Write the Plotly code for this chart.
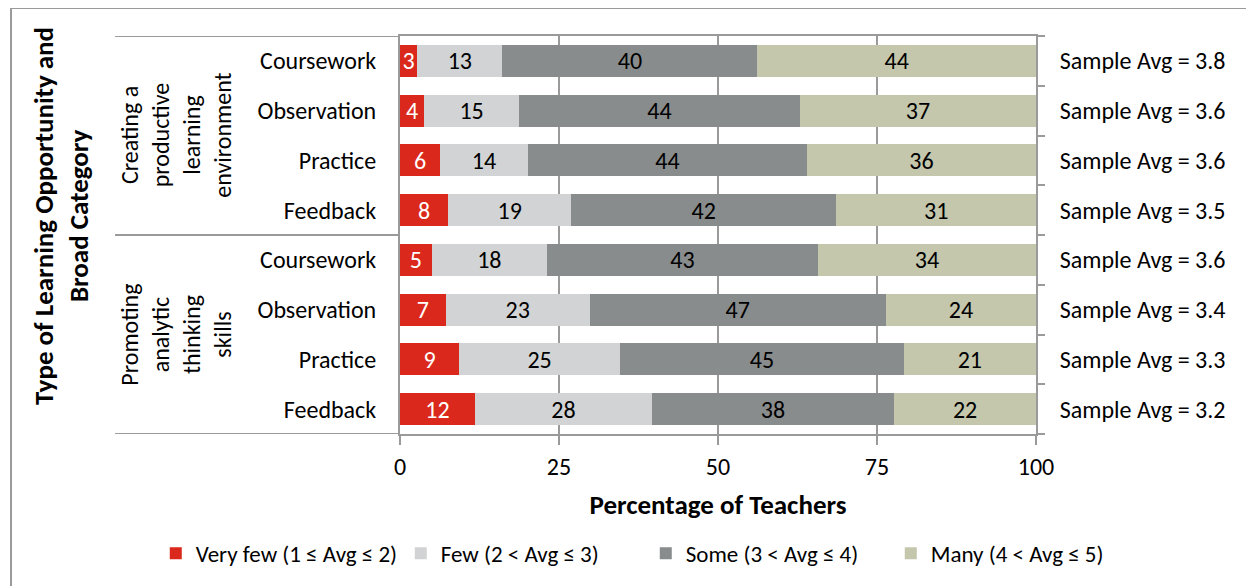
import plotly.graph_objects as go

# ---------------- data ----------------
opportunities = ["Coursework", "Observation", "Practice", "Feedback",
                 "Coursework", "Observation", "Practice", "Feedback"]
groups = ["Creating a<br>productive<br>learning<br>environment",
          "Promoting<br>analytic<br>thinking<br>skills"]
group_sizes = [4, 4]
sample_avg = [3.8, 3.6, 3.6, 3.5, 3.6, 3.4, 3.3, 3.2]

very_few = [2.7, 3.8, 6.3, 7.6, 5.0, 7.2, 9.3, 11.8]
few = [13.4, 14.9, 13.8, 19.3, 18.1, 22.6, 25.3, 27.8]
some = [40.1, 44.2, 43.9, 41.7, 42.6, 46.6, 44.6, 38.1]
many = [43.8, 37.1, 36.0, 31.4, 34.3, 23.6, 20.8, 22.3]

series_names = ["Very few (1 ≤ Avg ≤ 2)", "Few (2 < Avg ≤ 3)",
                "Some (3 < Avg ≤ 4)", "Many (4 < Avg ≤ 5)"]
series_vals = [very_few, few, some, many]
series_colors = ["#DA291C", "#D1D3D4", "#898C8C", "#C4C7AC"]
text_colors = ["white", "black", "black", "black"]

x_ticks = [0, 25, 50, 75, 100]

FONT = "Carlito, Calibri, Lato, sans-serif"
AXIS_GRAY = "#9A9A9A"
FS = 24

idx = list(range(len(opportunities)))

fig = go.Figure()
for name, vals, col, tcol in zip(series_names, series_vals, series_colors, text_colors):
    fig.add_trace(go.Bar(
        x=vals, y=idx, orientation="h", name=name,
        marker=dict(color=col, line=dict(width=0)),
        width=0.64,
        text=vals, texttemplate="%{x:.0f}", textposition="inside",
        insidetextanchor="middle", textangle=0, constraintext="none",
        textfont=dict(color=tcol, size=FS, family=FONT),
        hoverinfo="skip",
    ))

# invisible trace to anchor the right-hand axis
fig.add_trace(go.Scatter(x=[0] * len(idx), y=idx, yaxis="y2", mode="markers",
                         marker=dict(opacity=0), showlegend=False, hoverinfo="skip"))

yrange = [len(idx) - 0.5, -0.5]

fig.update_layout(
    barmode="stack",
    width=1246, height=578,
    margin=dict(l=392, r=218, t=28, b=152, autoexpand=False),
    paper_bgcolor="white", plot_bgcolor="white",
    font=dict(family=FONT, size=FS, color="black"),
    xaxis=dict(range=[0, 100], tickvals=x_ticks, ticks="outside", ticklen=9,
               tickcolor=AXIS_GRAY, tickwidth=2, ticklabelstandoff=1,
               showgrid=True, gridcolor=AXIS_GRAY, gridwidth=2,
               showline=True, linecolor=AXIS_GRAY, linewidth=2, mirror=True,
               zeroline=False, tickfont=dict(size=FS),
               title=dict(text="<b>Percentage of Teachers</b>", font=dict(size=27), standoff=15)),
    yaxis=dict(range=yrange, tickvals=idx, ticktext=opportunities, ticks="",
               ticklabelstandoff=17, showline=True, linecolor=AXIS_GRAY, linewidth=2,
               showgrid=False, zeroline=False, tickfont=dict(size=FS)),
    yaxis2=dict(range=yrange, overlaying="y", side="right", tickvals=idx,
                ticktext=[f"Sample Avg = {v}" for v in sample_avg],
                ticks="", ticklabelstandoff=17,
                minor=dict(tick0=-0.5, dtick=1, ticks="outside", ticklen=7,
                           tickcolor=AXIS_GRAY, tickwidth=2, showgrid=False),
                showline=True, linecolor=AXIS_GRAY, linewidth=2,
                showgrid=False, zeroline=False, tickfont=dict(size=FS)),
    legend=dict(orientation="h", x=-0.384, xanchor="left",
                y=-0.30, yanchor="middle",
                font=dict(size=23, family=FONT),
                itemwidth=30, entrywidth=200, entrywidthmode="pixels",
                traceorder="normal"),
)

# group separator lines and group labels
shapes = []
annotations = []
start = 0
boundaries = [-0.5]
for g, n in zip(groups, group_sizes):
    end = start + n
    boundaries.append(end - 0.5)
    annotations.append(dict(text=g, x=-0.352, xref="paper", y=(start + end - 1) / 2, yref="y",
                            textangle=-90, showarrow=False, font=dict(size=FS),
                            xanchor="center", yanchor="middle"))
    start = end
for b in boundaries:
    shapes.append(dict(type="line", xref="paper", x0=-0.448, x1=0, yref="y", y0=b, y1=b,
                       line=dict(color=AXIS_GRAY, width=2)))

# outer frame
shapes.append(dict(type="line", xref="paper", yref="paper", x0=-0.6116, x1=1.4,
                   y0=1.0704, y1=1.0704, line=dict(color=AXIS_GRAY, width=2)))
shapes.append(dict(type="line", xref="paper", yref="paper", x0=-0.6116, x1=-0.6116,
                   y0=1.0704, y1=-0.5, line=dict(color=AXIS_GRAY, width=2)))

annotations.append(dict(text="<b>Type of Learning Opportunity and<br>Broad Category</b>",
                        x=-0.533, xref="paper", y=0.548, yref="paper", textangle=-90,
                        showarrow=False, font=dict(size=27), xanchor="center", yanchor="middle"))

fig.update_layout(shapes=shapes, annotations=annotations)

fig.write_html("out.html")
